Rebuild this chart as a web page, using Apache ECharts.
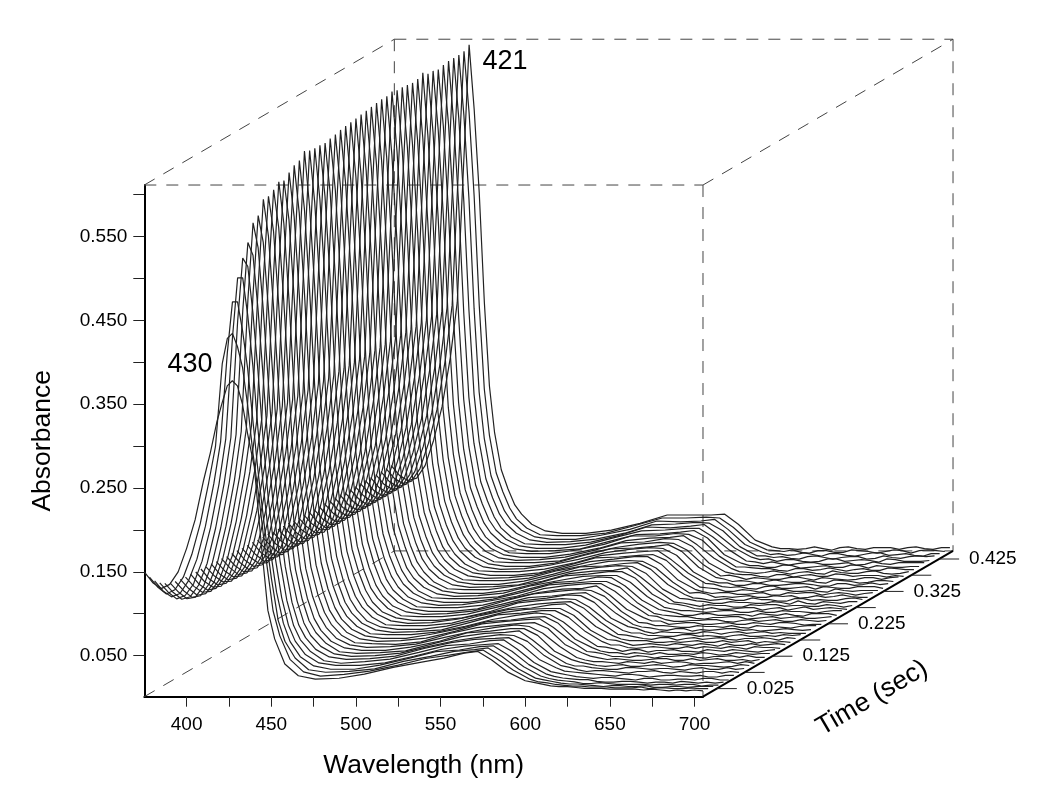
<!DOCTYPE html>
<html><head><meta charset="utf-8">
<style>html,body{margin:0;padding:0;background:#fff}#c{width:1050px;height:805px}</style>
<script src="https://cdn.jsdelivr.net/npm/echarts@6/dist/echarts.min.js"></script>
</head><body><div id="c"></div>
<script>
const wavelengths=[375,380,385,390,395,400,405,410,414,418,421,424,427,430,433,436,440,444,448,452,458,466,476,490,505,522,538,552,564,572,580,590,600,605,610,615,620,625,630,635,640,645,650,655,660,665,670,675,680,685,690,695,700,705];
const times=[0,.0093,.0185,.0278,.037,.0463,.0556,.0648,.0741,.0833,.0926,.1019,.1111,.1204,.1296,.1389,.1481,.1574,.1667,.1759,.1852,.1944,.2037,.213,.2222,.2315,.2407,.25,.2593,.2685,.2778,.287,.2963,.3056,.3148,.3241,.3333,.3426,.3519,.3611,.3704,.3796,.3889,.3981,.4074,.4167,.4259,.4352,.4444];
const s00=[150,137,130,135,150,178,212,259,292,330,352,372,378,372,350,315,275,185,104,70,40,26,22,23,28,36,42,47,53,55,45,30,20,18,16,14,13,13,12,11,11,11,10,10,10,10,9,10,9,8,9,8,9,8];
const s01=[140,128,120,125,140,167,204,253,296,395,425,431,415,390,345,290,230,160,100,70,42,27,22,24,28,35,43,47,51,53,43,29,18,15,14,12,11,10,10,9,9,9,8,8,8,9,7,8,8,7,7,8,7,7];
const s02=[132,120,113,117,132,158,197,248,298,405,465,465,430,385,325,265,195,135,85,60,40,26,23,24,27,36,42,48,50,52,42,27,16,14,12,10,9,9,8,7,6,7,7,6,6,7,5,5,6,6,5,6,6,6];
const s03=[126,115,107,111,125,152,192,244,298,420,490,490,445,385,310,245,170,115,78,56,38,27,23,23,28,36,44,46,50,51,41,26,15,12,10,9,8,6,6,7,6,5,5,5,5,4,5,5,4,5,5,3,4,4];
const s04=[122,111,103,106,120,146,188,241,296,435,510,500,445,375,295,225,155,105,72,53,37,27,24,24,27,35,43,47,49,50,41,25,14,11,9,8,7,7,5,4,4,5,5,4,3,4,4,3,5,4,3,4,3,4];
const s05=[119,108,100,102,116,143,185,239,296,445,525,510,445,365,280,210,145,98,68,51,37,26,23,25,28,36,44,46,50,51,40,24,13,11,9,7,6,5,6,6,5,4,3,5,5,3,3,4,4,3,5,5,3,3];
const s06=[117,106,98,100,114,140,183,238,296,455,545,515,442,355,268,198,135,92,65,50,36,27,24,25,28,37,44,48,49,50,41,24,14,10,9,8,7,6,5,4,6,6,5,3,4,5,5,4,4,5,3,3,5,5];
const s07=[116,105,97,99,113,140,183,238,296,458,550,518,440,348,258,190,128,90,64,49,36,27,24,25,28,36,43,47,50,49,42,25,13,11,8,6,7,7,6,5,4,6,6,7,5,4,6,5,4,6,6,4,6,5];
const s08=[115,104,97,98,112,139,182,238,296,465,566,522,438,342,250,184,124,88,63,49,36,26,24,25,27,36,44,48,49,51,40,24,12,9,9,7,6,5,5,7,7,6,5,6,6,5,4,6,7,5,5,7,5,6];
const s09=[115,103,96,98,112,139,182,237,297,468,566,524,438,338,244,180,120,86,62,48,35,27,24,24,28,35,45,47,50,50,42,23,13,10,8,6,5,6,7,5,5,6,7,6,4,5,7,6,6,5,4,5,7,6];
const s10=[114,103,96,97,111,138,181,237,297,468,570,525,437,334,238,177,118,85,62,48,35,27,24,25,28,36,43,48,51,49,41,25,12,9,7,7,6,5,7,6,5,7,5,6,7,6,4,5,5,6,7,5,7,5];
const s11=[114,102,95,97,111,138,181,237,297,470,576,526,436,330,234,174,116,84,62,48,35,26,25,24,27,37,44,47,49,50,43,24,14,10,8,6,7,6,5,5,6,7,7,5,5,7,5,6,7,5,5,6,4,6];
const s12=[113,102,95,96,110,138,180,237,297,470,574,527,436,328,230,172,115,84,61,48,35,27,24,25,28,36,45,48,50,51,41,25,12,11,9,6,6,5,7,6,4,6,6,7,7,5,4,6,6,7,5,7,5,5];
const s13=[113,101,94,96,110,137,180,236,298,472,580,527,435,325,228,170,114,83,61,47,35,27,24,24,29,36,44,46,49,50,42,23,13,9,7,7,5,7,6,5,7,5,5,6,5,7,6,4,5,7,6,5,6,6];
const s14=[112,101,94,95,110,137,180,236,298,472,585,528,435,322,226,168,113,83,61,47,35,26,25,25,28,35,43,48,51,49,40,24,11,10,8,5,7,7,4,6,6,7,5,5,4,7,6,5,7,6,5,4,6,7];
const s15=[112,101,93,95,109,137,179,236,298,473,587,529,434,320,224,166,112,82,60,47,35,27,24,25,27,36,45,47,50,50,42,25,13,9,9,6,5,6,7,6,5,5,7,5,7,6,5,7,6,4,7,6,6,5];
const s16=[111,100,93,94,109,136,179,236,298,473,595,529,434,319,222,165,111,82,60,47,34,27,24,24,28,36,44,48,49,49,41,23,12,11,8,5,6,7,6,5,7,6,5,7,6,4,7,5,5,7,5,6,7,6];
const s17=[111,100,92,94,109,136,179,236,299,474,592,530,433,318,221,164,110,81,60,47,35,26,25,25,28,37,44,46,50,51,41,24,13,9,7,7,7,5,5,6,5,6,7,5,5,7,5,6,7,4,6,5,6,5];
const s18=[111,99,92,94,108,136,178,236,299,474,591,530,433,317,220,163,110,81,60,46,35,27,24,25,29,36,43,47,49,50,42,25,11,10,8,6,5,7,7,4,6,7,5,6,7,5,4,6,6,7,6,4,7,6];
const s19=[110,99,92,93,108,136,178,236,299,475,591,530,433,316,219,162,109,81,60,46,34,27,24,24,27,35,45,48,50,49,40,24,12,9,9,6,6,5,5,7,7,5,6,5,4,6,7,5,5,6,5,7,6,7];
const s20=[110,99,91,93,108,136,178,235,299,475,590,531,432,315,218,161,109,80,59,47,35,26,25,25,28,36,44,47,51,50,42,23,13,11,7,5,7,6,6,5,5,7,6,4,6,7,5,6,7,5,6,5,5,5];
const s21=[110,98,91,93,107,135,178,235,299,475,592,531,432,314,217,160,108,80,59,46,34,27,24,25,28,36,44,46,49,50,41,25,12,9,8,6,5,7,7,4,6,5,6,7,7,5,6,4,5,6,7,6,5,6];
const s22=[109,98,91,92,107,135,177,235,299,476,593,531,432,313,216,159,108,80,59,46,35,27,24,24,27,37,45,48,50,49,42,24,11,10,7,7,6,5,5,7,6,6,5,7,5,4,7,6,6,5,4,6,7,7];
const s23=[109,98,90,92,107,135,177,235,299,476,595,531,432,312,215,158,107,80,59,46,35,26,25,25,28,36,43,47,48,51,40,23,13,9,9,5,6,7,7,5,5,6,7,5,5,7,6,5,7,7,6,4,5,5];
const s24=[109,97,90,92,107,135,177,235,299,476,596,532,431,311,214,157,107,79,59,46,34,27,24,25,29,35,44,48,50,50,41,25,12,11,7,5,5,6,6,7,7,5,4,6,7,5,6,7,5,5,7,6,5,6];
const s25=[108,97,90,92,106,135,177,235,300,476,597,532,431,311,213,156,106,79,59,46,35,27,24,24,28,36,45,47,49,49,42,24,11,9,8,7,7,5,4,6,6,7,7,4,5,6,7,5,6,7,5,5,6,7];
const s26=[108,97,90,91,106,135,176,235,300,477,598,532,431,310,212,155,106,79,59,46,34,26,25,25,27,36,44,46,51,50,40,23,12,10,8,5,5,7,7,5,5,6,6,4,7,6,5,7,5,4,7,7,7,5];
const s27=[108,97,89,91,106,134,176,235,300,477,599,532,431,309,212,154,105,79,58,46,35,27,24,25,28,37,43,48,49,49,41,24,11,9,7,7,6,5,6,7,7,5,5,7,5,5,7,6,6,5,4,6,7,7];
const s28=[108,96,89,91,106,134,176,235,300,477,600,532,431,309,211,153,105,79,58,46,35,27,24,24,28,36,45,47,50,50,42,23,12,11,9,6,5,7,5,5,6,7,7,4,6,7,4,6,8,5,6,7,6,5];
const s29=[107,96,89,91,105,134,176,235,300,477,601,533,430,308,210,153,104,78,58,46,34,26,25,25,29,35,44,47,48,51,40,24,10,9,7,5,7,6,6,4,4,7,6,7,7,5,6,6,5,5,7,6,4,6];
const s30=[107,96,89,90,105,134,176,235,300,477,602,533,430,308,209,152,104,78,58,46,35,27,24,25,27,36,44,48,50,49,41,22,11,10,8,7,5,5,7,6,6,5,5,7,6,4,8,5,4,7,6,5,7,7];
const s31=[107,96,89,90,105,134,176,235,300,478,603,533,430,307,209,151,104,78,58,46,35,27,24,24,28,36,45,46,49,50,42,24,12,8,7,5,6,7,5,5,8,6,6,4,4,7,7,5,6,5,5,7,8,6];
const s32=[107,95,88,90,105,134,176,235,300,478,603,533,430,306,208,151,103,78,58,46,34,26,25,25,28,37,43,48,49,48,40,23,10,11,9,5,6,5,6,7,5,5,7,6,7,4,5,7,5,6,8,6,5,5];
const s33=[106,95,88,90,105,134,175,235,300,478,605,533,430,306,207,150,103,78,58,46,35,27,24,25,28,36,44,47,50,50,41,22,11,8,6,7,7,5,5,6,7,4,4,7,6,7,7,4,6,7,6,4,6,7];
const s34=[106,95,88,90,105,135,175,235,300,478,603,533,430,305,207,150,103,78,58,46,35,27,24,24,27,36,45,46,48,49,42,24,10,9,8,5,5,7,6,4,6,8,7,5,5,6,5,4,8,6,5,6,6,6];
const s35=[106,95,88,90,105,135,175,235,300,478,603,532,430,305,206,149,102,78,58,46,34,26,25,25,28,35,44,47,49,50,39,23,11,10,7,6,7,5,4,7,8,5,5,6,7,4,7,6,5,5,7,7,7,5];
const s36=[106,95,88,90,105,135,175,235,300,478,602,532,430,304,205,149,102,77,58,46,35,27,24,25,29,36,44,48,50,49,41,21,10,8,8,5,5,7,7,5,5,6,7,7,6,4,4,7,7,5,6,8,6,7];
const s37=[106,94,88,90,105,135,175,235,300,477,601,532,430,304,205,148,102,77,58,46,35,27,24,24,28,37,45,46,48,50,42,23,11,9,6,7,6,4,6,8,6,5,5,7,5,4,8,7,6,4,5,7,7,6];
const s38=[106,94,88,90,105,135,175,235,300,477,602,532,430,303,204,148,101,77,58,46,34,26,25,25,27,36,43,47,49,48,40,22,9,10,8,5,7,6,5,5,7,8,6,4,7,6,5,4,5,7,7,5,7,8];
const s39=[105,94,87,90,105,135,175,235,300,477,606,531,430,303,204,147,101,77,58,46,35,27,24,25,28,36,45,46,50,49,41,21,10,8,7,7,5,4,7,7,4,6,7,5,5,8,7,5,6,6,6,4,6,5];
const s40=[105,94,87,90,105,135,175,235,300,476,601,531,430,302,203,147,101,77,58,46,35,27,24,24,28,35,44,47,48,50,39,23,11,7,6,5,6,8,6,4,6,7,5,4,8,6,5,5,7,8,5,4,5,7];
const s41=[105,94,87,90,105,135,175,235,300,476,601,531,430,302,203,147,101,77,58,45,34,26,25,25,29,36,46,46,49,48,41,22,9,9,8,7,7,5,4,7,7,5,6,8,6,4,6,7,5,5,8,7,6,6];
const s42=[105,94,87,90,105,135,175,235,300,476,599,531,430,302,202,146,100,77,58,46,35,27,24,25,27,36,44,45,47,49,40,20,10,7,7,5,5,8,7,4,5,6,7,5,5,8,7,4,7,6,5,5,6,6];
const s43=[105,93,87,90,105,135,175,235,300,475,601,531,430,301,202,146,100,77,58,46,35,27,24,24,28,37,45,46,48,48,38,22,9,8,6,8,6,4,6,7,7,5,5,6,7,4,5,8,6,5,7,7,7,7];
const s44=[105,93,87,90,105,135,175,235,300,475,602,530,430,301,201,146,100,77,58,45,34,26,25,25,28,36,46,45,47,49,37,21,10,7,8,5,7,7,5,4,5,8,8,5,6,7,6,4,8,7,5,5,5,6];
const s45=[105,93,87,90,105,135,175,235,300,475,602,530,430,301,201,145,100,77,58,46,35,27,24,25,28,35,45,46,48,47,38,19,8,8,6,7,5,4,7,8,6,4,6,7,7,4,5,8,6,5,7,8,7,8];
const s46=[105,93,87,90,105,135,175,235,300,475,602,530,430,300,200,145,100,77,58,46,35,27,24,24,29,36,46,45,46,48,36,18,9,6,7,5,6,8,6,4,7,7,5,4,6,8,8,5,6,7,5,4,7,7];
const s47=[105,93,87,90,105,135,175,235,300,475,603,530,430,300,200,145,100,77,58,45,34,26,25,25,28,37,46,46,47,46,35,17,8,7,6,8,5,4,7,7,5,5,8,7,6,4,6,8,7,4,7,8,7,6];
const s48=[105,93,87,90,105,135,175,235,300,475,607,530,430,300,200,145,100,77,58,47,35,27,24,24,28,36,46,46,46,47,35,16,8,6,6,5,6,8,6,4,7,8,6,5,7,7,7,5,7,8,6,5,7,7];
const spectra=[s00,s01,s02,s03,s04,s05,s06,s07,s08,s09,s10,s11,s12,s13,s14,s15,s16,s17,s18,s19,s20,s21,s22,s23,s24,s25,s26,s27,s28,s29,s30,s31,s32,s33,s34,s35,s36,s37,s38,s39,s40,s41,s42,s43,s44,s45,s46,s47,s48];
const wlTicks=[400,425,450,475,500,525,550,575,600,625,650,675,700];
const wlLabels=[400,450,500,550,600,650,700];
const absTicks=[.05,.1,.15,.2,.25,.3,.35,.4,.45,.5,.55,.6];
const absLabels=[.05,.15,.25,.35,.45,.55];
const timeTicks=[.025,.075,.125,.175,.225,.275,.325,.375,.425];
const timeLabels=[.025,.125,.225,.325,.425];

const W0=375,W1=705,A0=.001,A1=.6116,T1=.45;
const kW=328.2,kA=.3866;      // oblique depth projection per second, in axis units
const P=(w,a,t)=>[w+t*kW,a+t*kA];
// grid 0 holds the visible front axes; grid 1 has the same scale but extends over the depth offset
const base={type:'line',xAxisIndex:1,yAxisIndex:1,symbol:'none',silent:true,animation:false,clip:false,z:2};
const dash=(a,b)=>({...base,data:[a,b],z:1,lineStyle:{color:'#444',width:1,type:[12,10]}});
const series=[
 dash(P(W0,A1,0),P(W1,A1,0)),dash(P(W1,A1,0),P(W1,A0,0)),
 dash(P(W0,A1,T1),P(W1,A1,T1)),dash(P(W0,A1,T1),P(W0,A0,T1)),
 dash(P(W1,A1,T1),P(W1,A0,T1)),dash(P(W0,A0,T1),P(W1,A0,T1)),
 dash(P(W0,A1,0),P(W0,A1,T1)),dash(P(W1,A1,0),P(W1,A1,T1)),dash(P(W0,A0,0),P(W0,A0,T1)),
 {...base,data:[P(W1,A0,0),P(W1,A0,T1)],lineStyle:{color:'#000',width:2}}
];
timeTicks.forEach(t=>{
 const a=P(W1,A0,t),b=[a[0]+11.8,a[1]];
 const lab=timeLabels.includes(t);
 series.push({...base,data:[a,b],lineStyle:{color:'#222',width:1},
  endLabel:{show:lab,distance:10,formatter:t.toFixed(3),fontSize:19,color:'#000',fontFamily:'Liberation Sans'}});
});
spectra.forEach((s,i)=>{
 series.push({...base,z:3,data:s.map((v,j)=>P(wavelengths[j],v/1000,times[i])),lineStyle:{color:'#222',width:1.2}});
});
const font={fontFamily:'Liberation Sans',color:'#000'};
const txt=(text,x,y,size,rot)=>({type:'text',x,y,rotation:rot||0,z:10,style:{text,fill:'#000',font:size+'px "Liberation Sans"',textAlign:'center',textVerticalAlign:'middle'}});
const chart=echarts.init(document.getElementById('c'),null,{renderer:'canvas'});
chart.setOption({
 animation:false,backgroundColor:'#fff',
 grid:[{left:144.3,top:185,width:558.7,height:511.7},{left:144.3,top:20.6,width:846.5,height:676.1}],
 xAxis:[{type:'value',min:W0,max:W1,splitLine:{show:false},
  axisLine:{show:true,onZero:false,lineStyle:{color:'#000',width:2}},
  axisTick:{show:true,length:10,customValues:wlTicks,lineStyle:{color:'#222',width:1}},
  axisLabel:{show:true,customValues:wlLabels,fontSize:19,margin:19,...font,formatter:v=>String(v)},
  name:'Wavelength (nm)',nameLocation:'middle',nameGap:55,nameTextStyle:{fontSize:26.5,...font}},
  {type:'value',gridIndex:1,min:W0,max:W0+500,show:false}],
 yAxis:[{type:'value',min:A0,max:A1,splitLine:{show:false},
  axisLine:{show:true,onZero:false,lineStyle:{color:'#000',width:2}},
  axisTick:{show:true,length:11,customValues:absTicks,lineStyle:{color:'#222',width:1}},
  axisLabel:{show:true,customValues:absLabels,fontSize:19,margin:17,...font,formatter:v=>v.toFixed(3)},
  name:'Absorbance',nameLocation:'middle',nameGap:88,nameTextStyle:{fontSize:26.5,...font}},
  {type:'value',gridIndex:1,min:A0,max:A0+676.1/838,show:false}],
 graphic:[txt('421',505,62,27),txt('430',190,365,27),txt('Time (sec)',872,698,26.5,0.53)],
 series
});
</script></body></html>
